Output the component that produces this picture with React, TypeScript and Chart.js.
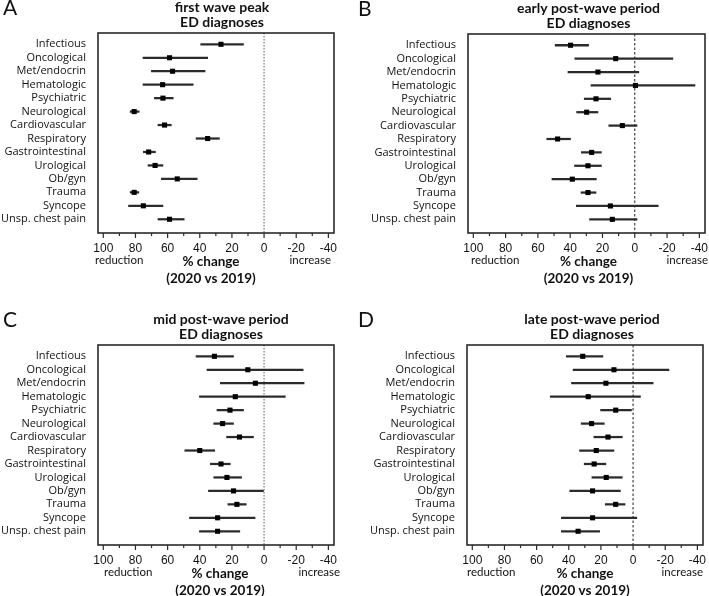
import React, { useEffect, useRef } from 'react';
import { Chart, registerables } from 'chart.js';

Chart.register(...registerables);

// ---------------- data ----------------
const categories = [
  'Infectious', 'Oncological', 'Met/endocrin', 'Hematologic', 'Psychiatric',
  'Neurological', 'Cardiovascular', 'Respiratory', 'Gastrointestinal',
  'Urological', 'Ob/gyn', 'Trauma', 'Syncope', 'Unsp. chest pain',
];

const xMajorTicks = [100, 80, 60, 40, 20, 0, -20, -40];
const xMinorTicks = [90, 70, 50, 30, 10, -10, -30];

// % change (positive = reduction), with CI ends (ciMore = larger reduction end, ciLess = smaller reduction end)
const firstWaveEst = [26.8, 58.8, 56.9, 63.1, 62.9, 80.8, 61.9, 35.1, 71.8, 67.8, 54.0, 80.8, 75.1, 58.8];
const firstWaveCiMore = [39.4, 75.3, 70.1, 75.3, 68.2, 83.3, 66.0, 42.3, 75.1, 72.2, 63.9, 83.3, 84.3, 66.0];
const firstWaveCiLess = [12.8, 35.1, 36.7, 44.1, 56.5, 77.7, 57.7, 27.8, 67.6, 62.9, 41.6, 77.9, 62.9, 49.7];

const earlyPostEst = [39.8, 11.8, 22.8, -0.4, 24.0, 29.8, 7.7, 47.8, 26.7, 29.0, 38.7, 29.0, 15.1, 13.9];
const earlyPostCiMore = [49.3, 37.1, 41.4, 27.1, 31.3, 36.0, 16.1, 54.5, 33.1, 37.3, 51.3, 33.3, 36.2, 28.0];
const earlyPostCiLess = [28.6, -23.6, -2.5, -37.3, 14.9, 22.8, -1.4, 39.8, 20.7, 20.7, 23.8, 24.0, -14.5, -1.4];

const midPostEst = [30.9, 10.1, 5.4, 17.9, 21.2, 25.8, 15.3, 40.0, 26.8, 23.1, 19.0, 16.9, 28.9, 28.9];
const midPostCiMore = [42.3, 35.5, 27.2, 40.2, 29.3, 31.3, 23.3, 49.3, 33.4, 31.3, 34.6, 22.5, 46.4, 40.2];
const midPostCiLess = [19.0, -24.3, -24.9, -13.2, 12.8, 19.0, 6.6, 30.7, 21.0, 14.0, 0.4, 11.1, 5.6, 15.1];

const latePostEst = [31.3, 11.9, 16.9, 27.9, 10.8, 25.8, 15.6, 22.9, 24.2, 16.7, 25.2, 10.8, 25.2, 34.2];
const latePostCiMore = [41.5, 37.3, 38.3, 51.5, 20.2, 32.3, 24.4, 33.3, 30.4, 25.6, 39.4, 17.3, 44.6, 44.6];
const latePostCiLess = [18.8, -22.3, -12.5, -4.6, 1.0, 17.9, 6.7, 11.9, 16.9, 6.7, 7.9, 5.0, -2.3, 20.8];

const panelLetters = ['A', 'B', 'C', 'D'];
const panelTitles = [
  ['first wave peak', 'ED diagnoses'],
  ['early post-wave period', 'ED diagnoses'],
  ['mid post-wave period', 'ED diagnoses'],
  ['late post-wave period', 'ED diagnoses'],
];
const xAxisTitle = ['% change', '(2020 vs 2019)'];
const leftEndLabel = 'reduction';
const rightEndLabel = 'increase';

// ---------------- layout / style ----------------
const SANS = "Lato, 'Open Sans', sans-serif";
const LABEL = "'Open Sans', Lato, sans-serif";
const NUM = "'Liberation Sans Narrow', 'Liberation Sans', Arial, sans-serif";

const layouts = [
  { left: 0, top: 0, w: 354, h: 296, boxLeft: 98, boxTop: 33, boxRight: 334, boxBottom: 233, titleDx: 6, xTitleDx: -5, endDx: -3, zeroDashed: false },
  { left: 355, top: 0, w: 354, h: 296, boxLeft: 113, boxTop: 34, boxRight: 350, boxBottom: 233, titleDx: 2, xTitleDx: 2, endDx: 3, zeroDashed: true },
  { left: 0, top: 306, w: 354, h: 290, boxLeft: 98, boxTop: 39, boxRight: 334, boxBottom: 239, titleDx: 5, xTitleDx: 4, endDx: 6, zeroDashed: false },
  { left: 355, top: 306, w: 354, h: 290, boxLeft: 112, boxTop: 39, boxRight: 348, boxBottom: 239, titleDx: 7, xTitleDx: 0, endDx: 0, zeroDashed: true },
];

const panelData = [
  { est: firstWaveEst, more: firstWaveCiMore, less: firstWaveCiLess },
  { est: earlyPostEst, more: earlyPostCiMore, less: earlyPostCiLess },
  { est: midPostEst, more: midPostCiMore, less: midPostCiLess },
  { est: latePostEst, more: latePostCiMore, less: latePostCiLess },
];

const decorPlugin = {
  id: 'decor',
  beforeDatasetsDraw(chart: any, _args: any, opts: any) {
    const { ctx, chartArea, scales } = chart;
    const x = scales.x;
    const zx = x.getPixelForValue(0);
    ctx.save();
    ctx.beginPath();
    if (opts.zeroDashed) {
      ctx.strokeStyle = '#1a1a1a';
      ctx.lineWidth = 1;
      ctx.setLineDash([2.5, 2]);
    } else {
      ctx.strokeStyle = '#8c8c8c';
      ctx.lineWidth = 1.4;
      ctx.setLineDash([1.5, 1.5]);
    }
    ctx.moveTo(zx, chartArea.top);
    ctx.lineTo(zx, chartArea.bottom);
    ctx.stroke();
    ctx.restore();
  },
  afterDraw(chart: any, _args: any, opts: any) {
    const { ctx, chartArea, scales } = chart;
    const { left, right, top, bottom } = chartArea;
    const x = scales.x;
    ctx.save();
    // box
    ctx.strokeStyle = '#2a2a2a';
    ctx.lineWidth = 1.6;
    ctx.setLineDash([]);
    ctx.strokeRect(left, top, right - left, bottom - top);
    // tick marks
    ctx.lineWidth = 1.2;
    x.ticks.forEach((t: any) => {
      const px = x.getPixelForValue(t.value);
      const len = t.value % 20 === 0 ? 5 : 3;
      ctx.beginPath();
      ctx.moveTo(px, bottom);
      ctx.lineTo(px, bottom + len);
      ctx.stroke();
    });
    ctx.fillStyle = '#111';
    // panel letter
    ctx.font = `21px ${SANS}`;
    ctx.textAlign = 'left';
    ctx.textBaseline = 'middle';
    ctx.fillText(opts.letter, 3, top - 24.5);
    // title
    const cx = (left + right) / 2;
    ctx.font = `bold 14px ${SANS}`;
    ctx.textAlign = 'center';
    ctx.fillText(opts.title[0], cx + opts.titleDx, top - 26);
    ctx.fillText(opts.title[1], cx + opts.titleDx, top - 10.5);
    // end labels
    ctx.font = `11.5px ${SANS}`;
    ctx.textAlign = 'left';
    ctx.fillText(leftEndLabel, left + opts.endDx, bottom + 27);
    ctx.textAlign = 'right';
    ctx.fillText(rightEndLabel, right + opts.endDx, bottom + 27);
    // x axis title
    ctx.font = `bold 13.5px ${SANS}`;
    ctx.textAlign = 'center';
    ctx.fillText(xAxisTitle[0], cx + opts.xTitleDx, bottom + 29);
    ctx.fillText(xAxisTitle[1], cx + opts.xTitleDx, bottom + 45.5);
    ctx.restore();
  },
};

function Panel({ idx }: { idx: number }) {
  const ref = useRef<HTMLCanvasElement | null>(null);
  const L = layouts[idx];
  const D = panelData[idx];

  useEffect(() => {
    if (!ref.current) return;
    const allTicks = [...xMajorTicks, ...xMinorTicks].sort((a, b) => a - b);
    const chart = new Chart(ref.current, {
      type: 'bar',
      data: {
        datasets: [
          {
            type: 'scatter',
            data: D.est.map((v, i) => ({ x: v, y: i })),
            pointStyle: 'rect',
            pointRadius: 3.6,
            pointHoverRadius: 3.6,
            backgroundColor: '#000',
            borderWidth: 0,
          } as any,
          {
            type: 'bar',
            data: categories.map((_, i) => ({ x: [D.more[i], D.less[i]], y: i })),
            backgroundColor: '#2b2b2b',
            barThickness: 1.6,
            borderWidth: 0,
            borderSkipped: false,
          } as any,
        ],
      },
      options: {
        responsive: false,
        animation: false,
        indexAxis: 'y',
        layout: { padding: { top: L.boxTop, right: L.w - L.boxRight, left: 0, bottom: 0 } },
        plugins: {
          legend: { display: false },
          tooltip: { enabled: false },
          decor: {
            letter: panelLetters[idx],
            title: panelTitles[idx],
            titleDx: L.titleDx,
            xTitleDx: L.xTitleDx,
            endDx: L.endDx,
            zeroDashed: L.zeroDashed,
          },
        } as any,
        scales: {
          x: {
            type: 'linear',
            reverse: true,
            offset: false,
            min: -43.5,
            max: 103.3,
            afterBuildTicks: (s: any) => { s.ticks = allTicks.map((v) => ({ value: v })); },
            afterFit: (s: any) => { s.height = L.h - L.boxBottom; s.paddingLeft = 0; s.paddingRight = 0; },
            grid: { display: false, drawTicks: false, offset: false },
            border: { display: false },
            ticks: {
              autoSkip: false,
              maxRotation: 0,
              padding: 8,
              color: '#111',
              font: { family: NUM, size: 12 },
              callback: (v: any) => (Number(v) % 20 === 0 ? String(v) : ''),
            },
          },
          y: {
            type: 'linear',
            reverse: true,
            offset: false,
            min: -0.84,
            max: 14.02,
            afterBuildTicks: (s: any) => { s.ticks = categories.map((_, i) => ({ value: i })); },
            afterFit: (s: any) => { s.width = L.boxLeft; s.paddingTop = 0; s.paddingBottom = 0; },
            grid: { display: false, drawTicks: false, offset: false },
            border: { display: false },
            ticks: {
              autoSkip: false,
              padding: 12,
              color: '#111',
              font: { family: LABEL, size: 11 },
              callback: (v: any) => categories[Number(v)] ?? '',
            },
          },
        },
      } as any,
      plugins: [decorPlugin],
    });
    return () => chart.destroy();
  }, [idx]);

  return (
    <canvas
      ref={ref}
      width={L.w}
      height={L.h}
      style={{ position: 'absolute', left: L.left, top: L.top, width: L.w, height: L.h }}
    />
  );
}

export default function App() {
  return (
    <div style={{ position: 'absolute', left: 0, top: 0, width: 709, height: 596, overflow: 'hidden', background: '#fff' }}>
      {[0, 1, 2, 3].map((i) => (
        <Panel key={i} idx={i} />
      ))}
    </div>
  );
}
